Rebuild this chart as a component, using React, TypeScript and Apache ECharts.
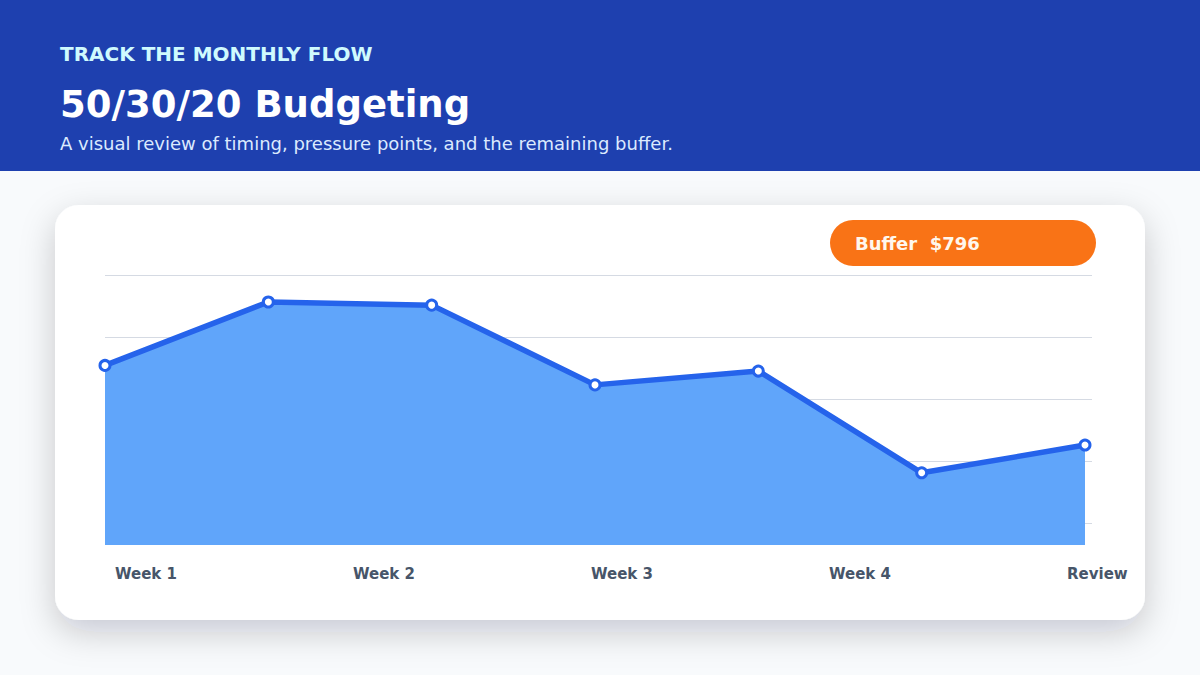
import React, { useRef, useEffect } from 'react';
import * as echarts from 'echarts';

// balance checkpoints across the month (dollars)
const checkpoints = ['Start', 'Rent', 'Payday', 'Bills', 'Groceries', 'Pressure', 'Review'];
const balance = [1430, 1935, 1910, 1275, 1385, 575, 796];

// evenly spaced period labels along the bottom
const periods = ['Week 1', 'Week 2', 'Week 3', 'Week 4', 'Review'];

// guide lines (offsets from the plot top, in guide units)
const guideMax = 270;
const guideStep = 62;

const BUFFER = 796;
const FONT = '"DejaVu Sans", Verdana, sans-serif';

const App: React.FC = () => {
  const chartRef = useRef<HTMLDivElement>(null);

  useEffect(() => {
    document.body.style.margin = '0';
    const chart = echarts.init(chartRef.current, null, { renderer: 'svg' });

    const option = {
      animation: false,
      backgroundColor: '#F8FAFC',
      textStyle: { fontFamily: FONT },
      grid: [
        { left: 105, right: 115, top: 275, bottom: 130 },
        { left: 105, right: 108, top: 275, bottom: 130 },
        { left: 115, right: 133, top: 275, bottom: 130 }
      ],
      xAxis: [
        {
          type: 'category',
          gridIndex: 0,
          data: checkpoints,
          boundaryGap: false,
          show: false
        },
        {
          type: 'value',
          gridIndex: 1,
          show: false
        },
        {
          type: 'category',
          gridIndex: 2,
          data: periods,
          boundaryGap: false,
          axisLine: { show: false },
          axisTick: { show: false },
          axisLabel: {
            interval: 0,
            align: 'left',
            verticalAlign: 'middle',
            margin: 29,
            fontSize: 15,
            fontWeight: 'bold',
            color: '#475569',
            fontFamily: FONT
          }
        }
      ],
      yAxis: [
        {
          type: 'value',
          gridIndex: 0,
          min: 0,
          max: 2150,
          show: false
        },
        {
          type: 'value',
          gridIndex: 1,
          min: 0,
          max: guideMax,
          interval: guideStep,
          inverse: true,
          axisLine: { show: false },
          axisTick: { show: false },
          axisLabel: { show: false },
          splitLine: {
            show: true,
            showMinLine: true,
            showMaxLine: false,
            lineStyle: { color: '#D5DAE3', width: 1 }
          }
        },
        {
          type: 'value',
          gridIndex: 2,
          show: false
        }
      ],
      series: [
        {
          name: 'Balance',
          type: 'line',
          xAxisIndex: 0,
          yAxisIndex: 0,
          data: balance,
          symbol: 'circle',
          symbolSize: 10,
          itemStyle: { color: '#FFFFFF', borderColor: '#2563EB', borderWidth: 3 },
          lineStyle: { color: '#2563EB', width: 5.5 },
          areaStyle: { color: '#60A5FA', opacity: 1 },
          z: 3
        }
      ],
      graphic: [
        {
          type: 'rect',
          z: -10,
          shape: { x: 0, y: 0, width: 1200, height: 171 },
          style: { fill: '#1E40AF' }
        },
        {
          type: 'text',
          z: -5,
          x: 60,
          y: 54,
          style: {
            text: 'TRACK THE MONTHLY FLOW',
            fill: '#CFFAFE',
            font: `bold 20px ${FONT}`,
            textVerticalAlign: 'middle'
          }
        },
        {
          type: 'text',
          z: -5,
          x: 60,
          y: 104,
          style: {
            text: '50/30/20 Budgeting',
            fill: '#FFFFFF',
            font: `bold 37px ${FONT}`,
            textVerticalAlign: 'middle'
          }
        },
        {
          type: 'text',
          z: -5,
          x: 60,
          y: 143,
          style: {
            text: 'A visual review of timing, pressure points, and the remaining buffer.',
            fill: '#DBEAFE',
            font: `18px ${FONT}`,
            textVerticalAlign: 'middle'
          }
        },
        {
          type: 'rect',
          z: -10,
          shape: { x: 55, y: 205, width: 1090, height: 415, r: 24 },
          style: {
            fill: '#FFFFFF',
            shadowBlur: 34,
            shadowOffsetY: 12,
            shadowColor: 'rgba(15, 23, 42, 0.2)'
          }
        },
        {
          type: 'rect',
          z: 10,
          shape: { x: 830, y: 220, width: 266, height: 46, r: 23 },
          style: { fill: '#F97316' }
        },
        {
          type: 'text',
          z: 11,
          x: 855,
          y: 243,
          style: {
            text: `Buffer  $${BUFFER}`,
            fill: '#FFF7ED',
            font: `bold 18px ${FONT}`,
            textVerticalAlign: 'middle'
          }
        }
      ]
    };

    chart.setOption(option);

    return () => {
      chart.dispose();
    };
  }, []);

  return <div ref={chartRef} style={{ width: '1200px', height: '675px' }} />;
};

export default App;
